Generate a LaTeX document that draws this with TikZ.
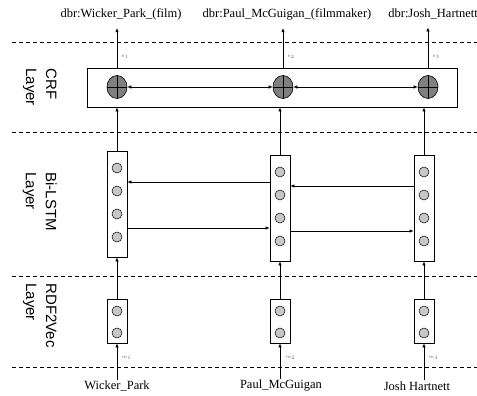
\documentclass[tikz,border=0pt]{standalone}
\usepackage{fontspec}
\setmainfont{Liberation Serif}
\setsansfont{Liberation Sans}
\usetikzlibrary{arrows.meta,shapes.geometric}
\begin{document}
\begin{tikzpicture}[x=1pt,y=-1pt,line width=0.7pt,
  >={Latex[length=4pt,width=3.5pt]},
  layertext/.style={font=\sffamily\fontsize{15}{20}\selectfont,rotate=-90,align=left,anchor=north west,inner sep=0pt},
  entity/.style={font=\fontsize{12.5}{14}\selectfont,inner sep=1pt},
  tinylbl/.style={font=\fontsize{5}{6}\selectfont,text=black!60,inner sep=0pt,anchor=west},
  sep/.style={dash pattern=on 4pt off 3pt,line width=0.6pt},
  vecbox/.style={draw,minimum width=20pt,inner sep=0pt},
  cell/.style={circle,draw,fill=black!22,minimum size=10pt,inner sep=0pt,line width=0.5pt},
  crfcell/.style={ellipse,draw,fill=black!50,minimum width=20pt,minimum height=23pt,inner sep=0pt,line width=0.6pt}]
\useasboundingbox (0,0) rectangle (477,396);

% layer separators
\draw[sep] (12,42) -- (477,42);
\draw[sep] (12,132) -- (477,132);
\draw[sep] (12,276) -- (477,276);
\draw[sep] (12,367) -- (477,367);

% layer names
\node[layertext] (crflbl) at (57,68) {CRF\\Layer};
\node[layertext] (lstmlbl) at (57,172) {Bi-LSTM\\Layer};
\node[layertext] (rdflbl) at (57,283) {RDF2Vec\\Layer};

% CRF layer
\node[draw,minimum width=370pt,minimum height=39pt,inner sep=0pt] (crf) at (272,87.5) {};
\node[crfcell] (k1) at (117,87) {};
\node[crfcell] (k2) at (283,87) {};
\node[crfcell] (k3) at (428,87) {};
\foreach \k in {1,2,3}
  \draw[line width=0.6pt] (k\k.north) -- (k\k.south) (k\k.west) -- (k\k.east);
\draw[<->] (k1) -- (k2);
\draw[<->] (k2) -- (k3);

% Bi-LSTM layer
\node[vecbox,minimum height=106pt] (l1) at (117,204) {};
\node[vecbox,minimum height=106pt] (l2) at (280,208) {};
\node[vecbox,minimum height=106pt] (l3) at (424,208) {};
\foreach \k in {1,...,4}{
  \node[cell] (l1c\k) at (117,145+23*\k) {};
  \node[cell] (l2c\k) at (280,149+23*\k) {};
  \node[cell] (l3c\k) at (424,149+23*\k) {};
}
\draw[->] (l2.west |- 0,182) -- (l1.east |- 0,182);
\draw[->] (l3.west |- 0,186) -- (l2.east |- 0,186);
\draw[->] (l1.east |- 0,228) -- (l2.west |- 0,228);
\draw[->] (l2.east |- 0,231) -- (l3.west |- 0,231);

% RDF2Vec layer
\node[vecbox,minimum height=44pt] (r1) at (117,321) {};
\node[vecbox,minimum height=44pt] (r2) at (280,321) {};
\node[vecbox,minimum height=44pt] (r3) at (424,321) {};
\foreach \k in {1,2}{
  \node[cell] (r1c\k) at (117,300+11*\k*2-11) {};
  \node[cell] (r2c\k) at (280,300+11*\k*2-11) {};
  \node[cell] (r3c\k) at (424,300+11*\k*2-11) {};
}

% entities
\node[entity] (t1) at (121,14) {dbr:Wicker\_Park\_(film)};
\node[entity] (t2) at (287,14) {dbr:Paul\_McGuigan\_(filmmaker)};
\node[entity,anchor=west] (t3) at (387,14) {dbr:Josh\_Hartnett};
\node[entity] (b1) at (117,386) {Wicker\_Park};
\node[entity] (b2) at (281,386) {Paul\_McGuigan};
\node[entity] (b3) at (417,386) {Josh Hartnett};

% vertical flow
\foreach \k in {1,2,3}{
  \draw[->] (b\k.north -| r\k) -- (r\k.south);
  \draw[->] (r\k.north) -- (l\k.south);
  \draw[->] (l\k.north) -- (l\k.north |- crf.south);
  \draw[->,shorten >=7pt] (k\k |- crf.north) -- (t\k.south -| k\k);
}
\node[tinylbl] (m1) at (121,358) {$m_1$};
\node[tinylbl] (m2) at (285,358) {$m_2$};
\node[tinylbl] (m3) at (428,358) {$m_3$};
\node[tinylbl] (e1) at (121,57) {$e_1$};
\node[tinylbl] (e2) at (287,57) {$e_2$};
\node[tinylbl] (e3) at (432,57) {$e_3$};

\end{tikzpicture}
\end{document}
